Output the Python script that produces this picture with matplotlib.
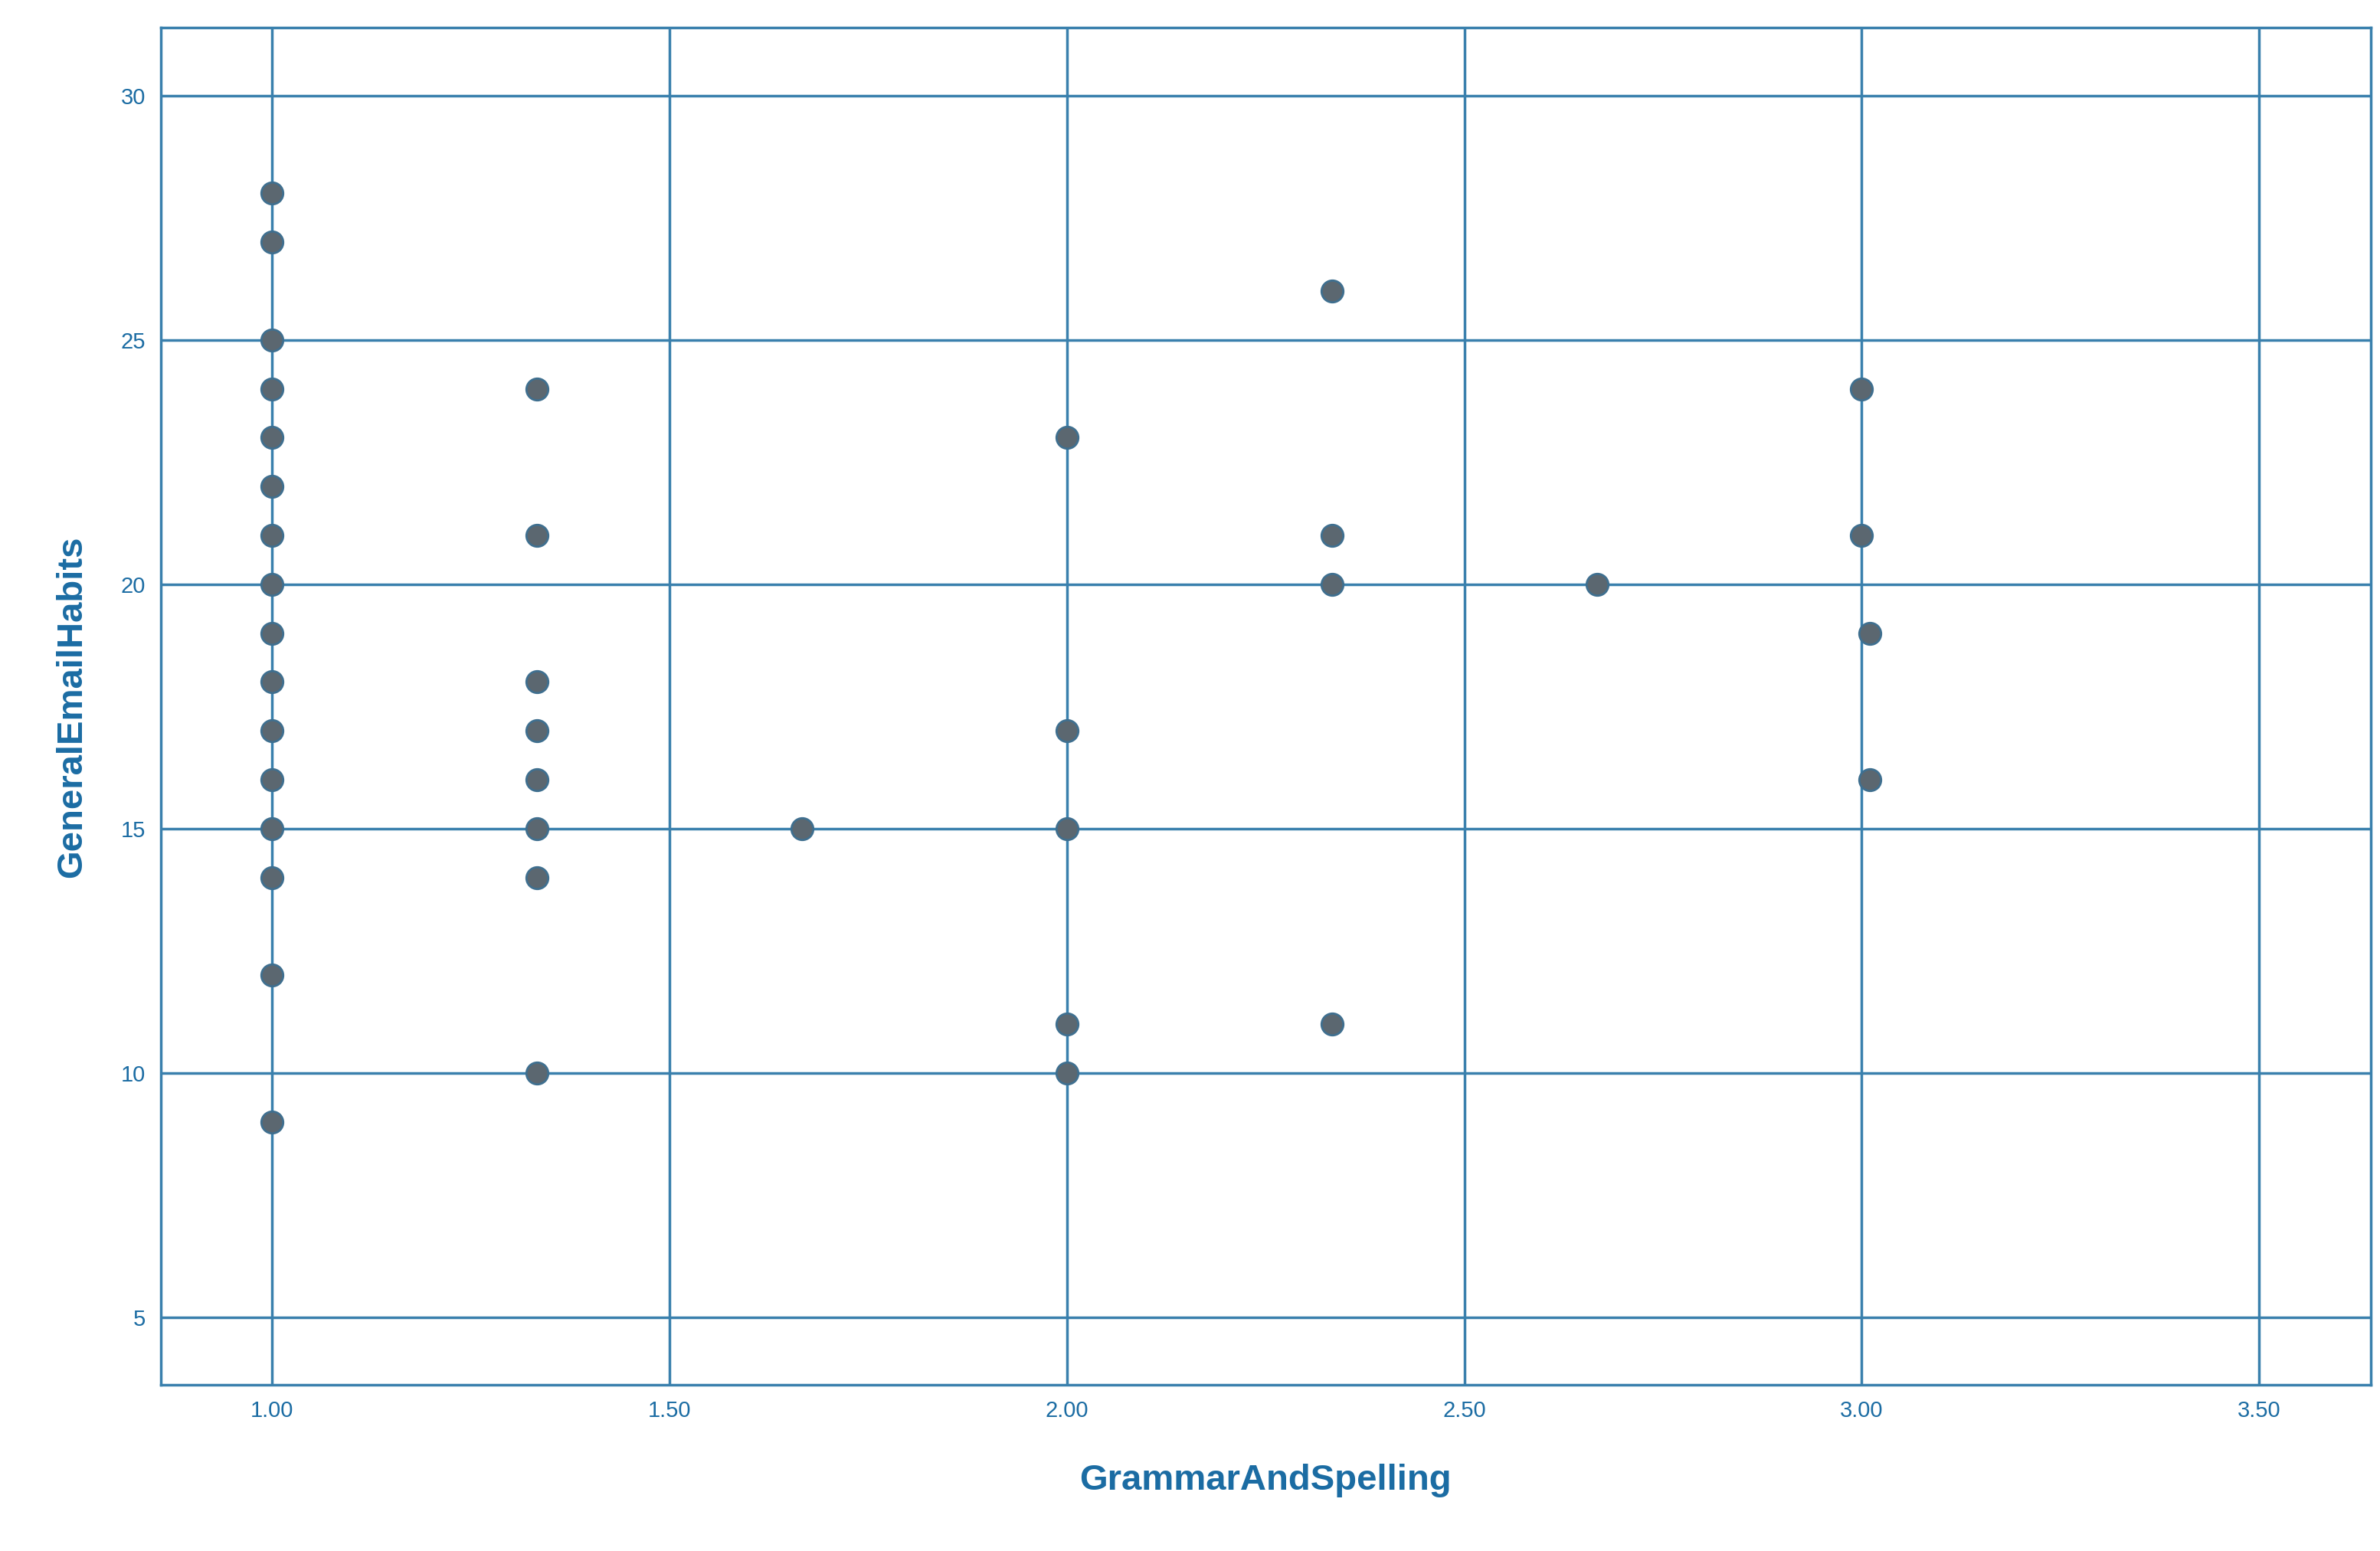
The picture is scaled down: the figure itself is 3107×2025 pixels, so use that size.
import matplotlib.pyplot as plt

plt.rcParams['font.family'] = ['Liberation Sans', 'DejaVu Sans']

# x positions and the y values observed at each
grammar_x = [1.0] * 16 + [4/3] * 8 + [5/3] + [2.0] * 5 + [7/3] * 4 + [8/3] + [3.0, 3.0, 3.01, 3.01]
email_y = [28, 27, 25, 24, 23, 22, 21, 20, 19, 18, 17, 16, 15, 14, 12, 9,
           24, 21, 18, 17, 16, 15, 14, 10,
           15,
           23, 17, 15, 11, 10,
           26, 21, 20, 11,
           20,
           24, 21, 19, 16]
x_ticks = [1.0, 1.5, 2.0, 2.5, 3.0, 3.5]
y_ticks = [5, 10, 15, 20, 25, 30]

line_col = '#3a80ad'
label_col = '#1b6ca3'

fig = plt.figure(figsize=(31.07, 20.25), dpi=100)
ax = fig.add_axes([0.0675, 0.107, 0.9285, 0.875])

ax.scatter(grammar_x, email_y, s=420, color='#5b6770', edgecolors='#3f6f8f',
           linewidths=2, zorder=3)

ax.set_xlim(0.86, 3.64)
ax.set_ylim(3.62, 31.38)
ax.set_xticks(x_ticks)
ax.set_xticklabels(['%.2f' % t for t in x_ticks])
ax.set_yticks(y_ticks)
ax.grid(True, color=line_col, linewidth=2.5)
ax.set_axisbelow(True)
for s in ax.spines.values():
    s.set_color(line_col)
    s.set_linewidth(2.5)
ax.tick_params(colors=line_col, labelcolor=label_col, labelsize=21, length=0, pad=14)

ax.set_xlabel('GrammarAndSpelling', fontsize=34, fontweight='bold', color=label_col, labelpad=40)
ax.set_ylabel('GeneralEmailHabits', fontsize=34, fontweight='bold', color=label_col, labelpad=30)

fig.savefig('out.png', dpi=100)
